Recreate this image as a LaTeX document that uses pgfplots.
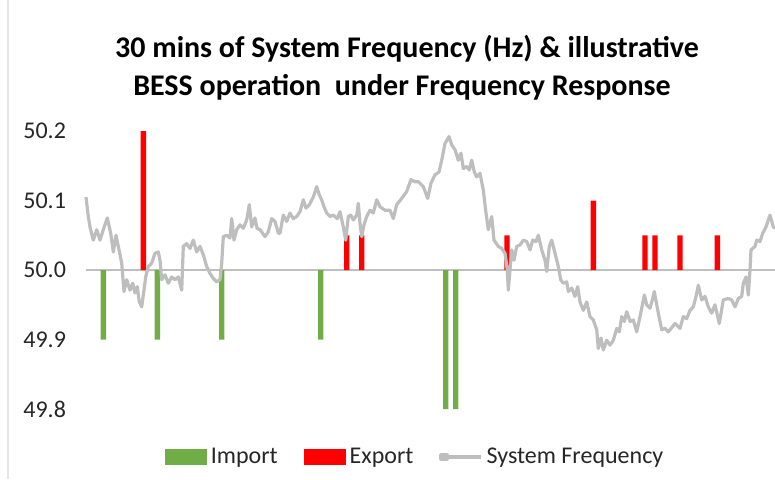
\documentclass[border=0pt]{standalone}
\usepackage{pgfplots}
\usepackage{pgfplotstable}
\pgfplotsset{compat=1.18}
\usepackage{fontspec}
\setmainfont{Carlito}
\definecolor{impgreen}{RGB}{112,173,71}
\definecolor{expred}{RGB}{255,0,0}
\definecolor{freqgray}{RGB}{190,190,190}
\definecolor{ticktext}{RGB}{38,38,38}

\pgfplotstableread{
x f
86.0 50.105
88.3 50.077
90.0 50.062
93.3 50.043
96.7 50.058
100.0 50.043
103.3 50.058
107.3 50.075
110.7 50.053
113.3 50.026
116.0 50.050
118.3 50.034
121.7 50.010
124.0 49.969
126.7 49.986
130.0 49.971
132.7 49.981
135.0 49.967
137.3 49.976
139.3 49.954
141.7 49.947
144.0 49.971
145.7 49.990
148.3 50.005
151.7 50.010
155.0 50.024
158.3 50.026
160.0 50.014
161.7 49.986
165.0 49.993
168.3 49.981
171.7 49.990
175.0 49.986
178.3 49.990
181.7 49.971
183.3 50.034
186.7 50.038
190.0 50.031
193.3 50.043
196.7 50.026
200.0 50.034
203.3 50.022
206.7 50.005
210.0 49.995
213.3 49.988
216.7 49.983
220.0 49.986
221.7 50.010
223.3 50.048
226.7 50.050
230.0 50.046
231.7 50.074
234.0 50.043
236.7 50.058
240.0 50.065
243.3 50.060
246.7 50.072
249.3 50.094
251.7 50.062
255.0 50.075
257.0 50.060
260.0 50.058
265.0 50.048
268.3 50.055
271.7 50.074
275.0 50.070
278.3 50.053
280.0 50.053
283.3 50.079
286.7 50.070
290.0 50.082
293.3 50.074
296.7 50.077
300.0 50.084
303.3 50.101
306.0 50.089
309.3 50.094
313.3 50.105
316.7 50.120
319.3 50.108
321.7 50.101
324.0 50.091
326.7 50.082
330.0 50.077
333.3 50.079
337.3 50.074
340.0 50.084
343.3 50.062
345.7 50.043
348.3 50.077
350.7 50.079
353.3 50.072
356.7 50.079
358.3 50.096
360.0 50.067
361.7 50.048
364.0 50.065
366.7 50.077
370.0 50.086
373.3 50.082
376.7 50.101
380.0 50.091
385.0 50.086
390.0 50.086
393.3 50.074
396.7 50.094
401.7 50.103
406.7 50.113
411.0 50.130
415.0 50.127
418.3 50.127
423.3 50.120
427.7 50.103
431.0 50.125
435.0 50.137
439.0 50.141
441.7 50.158
445.0 50.182
449.0 50.192
451.7 50.180
455.0 50.173
458.3 50.158
461.0 50.168
463.3 50.146
466.7 50.149
469.3 50.144
471.7 50.158
474.3 50.141
476.7 50.134
480.0 50.139
483.3 50.115
486.0 50.082
488.3 50.058
491.7 50.077
494.0 50.043
498.3 50.034
501.7 50.031
505.0 50.024
507.3 50.000
508.3 49.971
510.0 50.000
511.7 50.029
514.0 50.014
516.7 50.034
520.0 50.036
523.3 50.043
526.7 50.041
530.0 50.029
532.7 50.043
536.0 50.041
538.3 50.050
541.7 50.029
545.0 50.014
546.7 49.998
549.3 50.034
551.7 50.043
555.0 50.024
558.3 50.005
560.7 49.986
563.3 49.981
566.7 49.983
568.3 49.969
571.7 49.974
575.0 49.962
577.7 49.976
580.0 49.954
583.3 49.942
586.7 49.954
590.0 49.933
593.3 49.928
596.7 49.914
598.3 49.887
601.0 49.902
603.3 49.885
606.7 49.899
610.0 49.892
613.3 49.899
616.7 49.916
619.3 49.911
621.7 49.933
624.3 49.926
626.7 49.940
630.0 49.926
633.3 49.928
636.7 49.911
640.0 49.933
642.7 49.952
644.3 49.964
646.7 49.950
650.0 49.945
652.3 49.957
654.3 49.969
656.7 49.950
659.0 49.933
661.7 49.914
665.0 49.916
668.3 49.911
672.3 49.918
675.0 49.923
680.0 49.916
683.3 49.933
686.7 49.930
690.0 49.942
693.3 49.947
696.0 49.962
698.3 49.978
701.7 49.957
705.0 49.962
708.3 49.947
711.7 49.938
715.0 49.950
719.3 49.923
723.3 49.957
728.3 49.959
731.7 49.957
735.0 49.947
738.3 49.959
741.7 49.962
743.3 49.981
746.0 49.990
748.3 49.964
750.0 50.000
751.0 50.029
755.0 50.034
756.7 50.043
760.0 50.041
762.7 50.053
766.0 50.062
768.3 50.072
770.0 50.079
773.3 50.062
775.0 50.060
}\freqdata

\pgfplotstableread{
x f
103.3 49.9
157.3 49.9
221.7 49.9
320.7 49.9
445.7 49.8
455.7 49.8
}\importdata

\pgfplotstableread{
x f
143.3 50.2
346.7 50.05
361.7 50.05
507.0 50.05
593.3 50.1
645.0 50.05
655.0 50.05
680.0 50.05
717.3 50.05
}\exportdata

\pgfplotsset{
  barlegend/.style={legend image code/.code={\fill[##1] (0pt,-4pt) rectangle (21pt,4pt);}},
  linelegend/.style={legend image code/.code={\path (0pt,-1pt) rectangle (3pt,1pt); \draw[##1] (3pt,0pt) -- (20pt,0pt);}},
}

\begin{document}
\begin{tikzpicture}
\path[use as bounding box] (0,0) rectangle (387.5pt,239.5pt);
\draw[gray!20, line width=0.6pt] (4pt,0) -- (4pt,239.5pt);
\node[anchor=base, font=\fontsize{15}{18}\selectfont\bfseries] at (203.5pt,211pt) {30 mins of System Frequency (Hz) \& illustrative};
\node[anchor=base, font=\fontsize{15}{18}\selectfont\bfseries] at (201pt,192pt) {BESS operation\ \ under Frequency Response};
\begin{axis}[
  at={(43pt,35pt)}, anchor=south west,
  scale only axis, width=344.5pt, height=139pt,
  xmin=86, xmax=775,
  ymin=-0.2, ymax=0.2,
  xtick=\empty,
  ytick={-0.2,-0.1,0,0.1,0.2},
  yticklabels={49.8,49.9,50.0,50.1,50.2},
  yticklabel style={font=\fontsize{12}{14}\selectfont, text=ticktext, xshift=-6.5pt},
  axis line style={draw=none},
  major tick length=0pt,
  extra y ticks={0},
  extra y tick labels={},
  extra y tick style={grid=major, major grid style={draw=gray!50, line width=0.6pt}},
  clip=false,
  legend style={at={(axis description cs:0.479,-0.1727)}, anchor=center, draw=none, fill=none,
    font=\fontsize{12}{14}\selectfont, text=ticktext, legend columns=3,
    /tikz/every even column/.append style={column sep=11pt}},
  legend cell align=left,
]
\addplot[ybar, bar width=2.7pt, bar shift=0pt, fill=impgreen, draw=none, barlegend]
  table[x=x, y expr=\thisrow{f}-50] {\importdata};
\addlegendentry{Import}
\addplot[ybar, bar width=2.7pt, bar shift=0pt, fill=expred, draw=none, barlegend]
  table[x=x, y expr=\thisrow{f}-50] {\exportdata};
\addlegendentry{Export}
\addplot[freqgray, line width=1.6pt, no marks, line join=round, linelegend]
  table[x=x, y expr=\thisrow{f}-50] {\freqdata};
\addlegendentry{System Frequency}
\end{axis}
\end{tikzpicture}
\end{document}
